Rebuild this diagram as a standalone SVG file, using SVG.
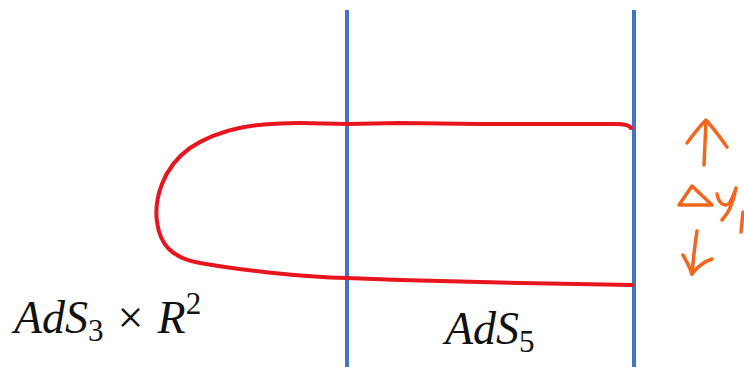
<svg xmlns="http://www.w3.org/2000/svg" width="744" height="367" viewBox="0 0 744 367">
<style>
.wall{stroke:#4472C4;stroke-width:4;fill:none}
.str{stroke:#E8141E;stroke-width:4;fill:none;stroke-linecap:round;stroke-linejoin:round}
.ink{stroke:#F4661B;stroke-width:3.5;fill:none;stroke-linecap:round;stroke-linejoin:round}
.lbl{font-family:"Liberation Serif","DejaVu Serif",serif;font-style:italic;fill:#111}
.up{font-style:normal}
</style>
<rect width="744" height="367" fill="#fff"/>
<g id="walls">
<line class="wall" x1="347" y1="10" x2="347" y2="367"/>
<line class="wall" x1="634" y1="10" x2="634" y2="367"/>
</g>
<g id="string">
<path class="str" d="M631 128 Q629 124 616 124 L480 124 L400 123 L347 124 L300 123 C255 123 220 128 190 148 C162 168 154 200 157 222 C160 245 172 258 200 263 C240 270 300 277 347 278 L400 280 L520 283 L632 285"/>
</g>
<g id="annot">
<path class="ink" d="M704 165 L706 121"/>
<path class="ink" d="M687 143 Q698 128 706 120 Q715 130 727 147"/>
<path class="ink" d="M679 205 L692 186 L712 205 Z"/>
<path class="ink" d="M717 194 Q720 208 729 204 Q734 195 736 188 Q732 210 722 220"/>
<path class="ink" d="M743 212 L741 232"/>
<path class="ink" d="M697 231 Q694 250 692 274"/>
<path class="ink" d="M683 255 Q689 265 692 274 Q700 263 712 259"/>
</g>
<g id="labels">
<text class="lbl" x="14" y="333" font-size="46">AdS<tspan class="up" font-size="31" dy="8">3</tspan><tspan class="up" dy="-8" dx="14">×</tspan><tspan dx="14">R</tspan><tspan class="up" font-size="31" dy="-19">2</tspan></text>
<text class="lbl" x="445" y="344" font-size="46">AdS<tspan class="up" font-size="31" dy="8">5</tspan></text>
</g>
</svg>
